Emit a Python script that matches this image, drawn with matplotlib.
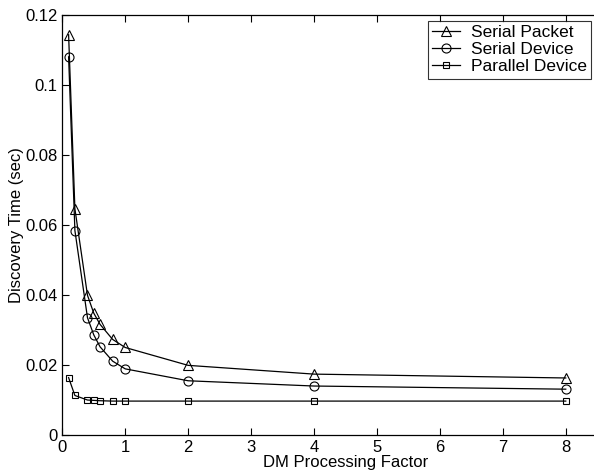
import matplotlib
matplotlib.use('Agg')
import matplotlib.pyplot as plt

# DM processing factor
x_vals = [0.1, 0.2, 0.4, 0.5, 0.6, 0.8, 1, 2, 4, 8]

serial_packet = [0.1143, 0.0646, 0.0399, 0.0348, 0.0316, 0.0273, 0.0250, 0.0199, 0.0174, 0.0163]
serial_device = [0.1080, 0.0584, 0.0335, 0.0286, 0.0252, 0.0211, 0.0189, 0.0155, 0.0140, 0.0131]
parallel_device = [0.0164, 0.0113, 0.0100, 0.0099, 0.0098, 0.0097, 0.0097, 0.0097, 0.0097, 0.0097]

plt.rcParams['font.family'] = ['Liberation Sans', 'DejaVu Sans']

fig = plt.figure(figsize=(5.94, 4.76), dpi=100)
# the original figure is cropped on the right: the axes run to x=9 off-image
ax = fig.add_axes([0.1049, 0.086, 0.9535, 0.883])

ax.plot(x_vals, serial_packet, '-^', color='black', lw=0.9, markersize=6.5,
        markerfacecolor='none', markeredgewidth=0.8, label='Serial Packet')
ax.plot(x_vals, serial_device, '-o', color='black', lw=0.9, markersize=6.5,
        markerfacecolor='none', markeredgewidth=0.8, label='Serial Device')
ax.plot(x_vals, parallel_device, '-s', color='black', lw=0.9, markersize=5,
        markerfacecolor='none', markeredgewidth=0.8, label='Parallel Device')

ax.set_xlim(0, 9)
ax.set_ylim(0, 0.12)
ax.set_xticks(range(0, 9))
ax.set_yticks([0, 0.02, 0.04, 0.06, 0.08, 0.1, 0.12])
ax.set_yticklabels(['0', '0.02', '0.04', '0.06', '0.08', '0.1', '0.12'])
ax.tick_params(direction='in', top=True, right=True, labelsize=12, length=5, width=0.8)
for s in ax.spines.values():
    s.set_linewidth(0.9)

ax.set_xlabel('DM Processing Factor', fontsize=12, labelpad=0)
ax.set_ylabel('Discovery Time (sec)', fontsize=12, labelpad=1)

leg = ax.legend(loc='upper right', bbox_to_anchor=(591 / 594, 1 - 21 / 476),
                bbox_transform=fig.transFigure, fontsize=12.5, frameon=True,
                fancybox=False, edgecolor='black', handlelength=1.6, borderpad=0.25,
                labelspacing=0.1, borderaxespad=0, handletextpad=0.6)
leg.get_frame().set_linewidth(0.8)

fig.savefig('out.png', dpi=100)
